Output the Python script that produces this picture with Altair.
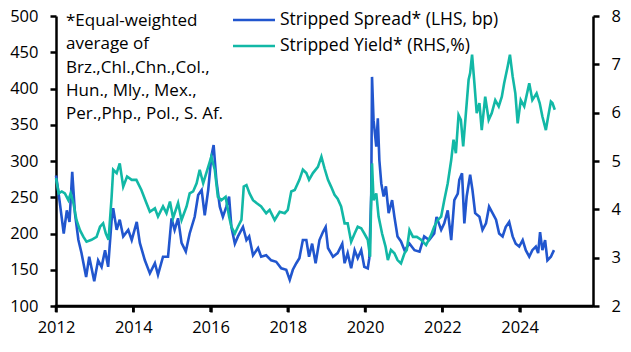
import altair as alt
import pandas as pd

# Stripped spread (LHS, bp)
spread_t = [2012.00, 2012.05, 2012.10, 2012.20, 2012.28, 2012.35, 2012.42, 2012.49, 2012.58, 2012.66,
            2012.78, 2012.86, 2012.99, 2013.09, 2013.18, 2013.27, 2013.35, 2013.44, 2013.48, 2013.57,
            2013.65, 2013.74, 2013.87, 2013.96, 2014.09, 2014.17, 2014.30, 2014.43, 2014.56, 2014.64,
            2014.77, 2014.90, 2014.99, 2015.07, 2015.16, 2015.25, 2015.36, 2015.46, 2015.59, 2015.68,
            2015.77, 2015.85, 2015.94, 2016.02, 2016.08, 2016.15, 2016.24, 2016.32, 2016.41, 2016.48,
            2016.54, 2016.63, 2016.71, 2016.84, 2016.93, 2017.00, 2017.10, 2017.23, 2017.31, 2017.44,
            2017.57, 2017.70, 2017.83, 2017.96, 2018.05, 2018.13, 2018.22, 2018.30, 2018.39, 2018.48,
            2018.55, 2018.63, 2018.72, 2018.82, 2018.91, 2018.98, 2019.04, 2019.17, 2019.29, 2019.41,
            2019.47, 2019.55, 2019.64, 2019.73, 2019.81, 2019.90, 2019.98, 2020.07, 2020.11, 2020.16,
            2020.18, 2020.22, 2020.29, 2020.33, 2020.37, 2020.42, 2020.48, 2020.54, 2020.61, 2020.70,
            2020.76, 2020.84, 2020.93, 2021.02, 2021.15, 2021.28, 2021.41, 2021.53, 2021.66, 2021.79,
            2021.85, 2021.97, 2022.05, 2022.14, 2022.23, 2022.31, 2022.40, 2022.44, 2022.51, 2022.57,
            2022.63, 2022.72, 2022.78, 2022.85, 2022.96, 2023.04, 2023.13, 2023.21, 2023.30, 2023.39,
            2023.47, 2023.56, 2023.64, 2023.73, 2023.82, 2023.90, 2023.99, 2024.08, 2024.16, 2024.25,
            2024.33, 2024.42, 2024.48, 2024.53, 2024.59, 2024.66, 2024.72, 2024.81, 2024.89]
spread_v = [280, 262, 242, 200, 232, 216, 285, 228, 191, 173,
            140, 168, 134, 163, 154, 177, 154, 219, 235, 205,
            219, 196, 205, 191, 216, 187, 163, 145, 159, 143,
            168, 168, 221, 205, 221, 187, 175, 200, 223, 253,
            260, 225, 260, 306, 322, 274, 237, 223, 237, 251,
            209, 186, 196, 209, 191, 196, 170, 180, 168, 170,
            163, 161, 152, 150, 136, 150, 159, 166, 191, 191,
            168, 186, 159, 191, 202, 209, 180, 168, 173, 186,
            159, 173, 152, 177, 166, 177, 154, 152, 166, 255,
            416, 356, 320, 359, 301, 269, 251, 265, 228, 246,
            223, 196, 189, 177, 186, 177, 175, 196, 191, 200,
            223, 205, 214, 232, 191, 246, 255, 274, 283, 214,
            251, 281, 260, 228, 223, 205, 214, 237, 228, 219,
            200, 196, 209, 216, 196, 186, 182, 191, 177, 168,
            177, 182, 173, 202, 177, 191, 163, 168, 177]

# Stripped yield (RHS, %)
yield_t = [2012.00, 2012.07, 2012.15, 2012.23, 2012.32, 2012.38, 2012.45, 2012.53, 2012.62, 2012.71,
           2012.79, 2012.92, 2013.05, 2013.14, 2013.22, 2013.29, 2013.36, 2013.44, 2013.48, 2013.57,
           2013.65, 2013.74, 2013.84, 2013.96, 2014.08, 2014.21, 2014.34, 2014.43, 2014.56, 2014.64,
           2014.77, 2014.86, 2014.95, 2015.03, 2015.16, 2015.25, 2015.38, 2015.46, 2015.55, 2015.64,
           2015.72, 2015.81, 2015.94, 2016.02, 2016.11, 2016.19, 2016.28, 2016.39, 2016.48, 2016.54,
           2016.63, 2016.71, 2016.80, 2016.86, 2016.93, 2017.01, 2017.10, 2017.19, 2017.31, 2017.44,
           2017.53, 2017.66, 2017.79, 2017.92, 2018.00, 2018.09, 2018.18, 2018.30, 2018.39, 2018.48,
           2018.55, 2018.65, 2018.78, 2018.87, 2018.95, 2019.04, 2019.12, 2019.21, 2019.29, 2019.38,
           2019.47, 2019.55, 2019.64, 2019.73, 2019.81, 2019.90, 2019.98, 2020.07, 2020.13, 2020.16,
           2020.18, 2020.22, 2020.29, 2020.35, 2020.44, 2020.53, 2020.59, 2020.67, 2020.76, 2020.84,
           2020.93, 2021.02, 2021.08, 2021.15, 2021.24, 2021.34, 2021.45, 2021.58, 2021.71, 2021.79,
           2021.88, 2021.97, 2022.05, 2022.14, 2022.23, 2022.29, 2022.35, 2022.42, 2022.48, 2022.54,
           2022.61, 2022.68, 2022.72, 2022.77, 2022.83, 2022.89, 2022.96, 2023.02, 2023.11, 2023.20,
           2023.28, 2023.37, 2023.46, 2023.54, 2023.60, 2023.69, 2023.75, 2023.82, 2023.89, 2023.95,
           2024.03, 2024.12, 2024.25, 2024.33, 2024.44, 2024.52, 2024.59, 2024.68, 2024.74, 2024.81,
           2024.85, 2024.91]
yield_v = [4.65, 4.33, 4.37, 4.33, 4.19, 4.33, 4.13, 3.78, 3.57, 3.43,
           3.33, 3.37, 3.43, 3.64, 3.71, 3.50, 3.37, 4.26, 4.82, 4.75,
           4.95, 4.47, 4.68, 4.61, 4.61, 4.40, 4.13, 3.95, 4.02, 3.85,
           4.06, 3.92, 4.16, 3.82, 4.13, 3.78, 4.06, 4.33, 4.37, 4.54,
           4.82, 4.54, 4.88, 5.09, 4.82, 4.26, 4.19, 4.26, 3.85, 3.64,
           3.50, 3.64, 3.78, 4.47, 4.50, 4.33, 4.19, 4.13, 4.06, 3.92,
           3.99, 3.78, 3.95, 3.92, 3.99, 4.37, 4.40, 4.61, 4.82, 4.75,
           4.61, 4.75, 4.88, 5.09, 4.85, 4.61, 4.47, 4.30, 4.22, 4.06,
           3.71, 3.71, 3.33, 3.50, 3.64, 3.61, 3.50, 3.37, 3.02, 4.26,
           4.95, 4.19, 4.33, 3.85, 3.50, 3.23, 2.95, 3.16, 3.09, 2.95,
           2.88, 3.09, 3.16, 3.57, 3.43, 3.43, 3.37, 3.26, 3.47, 3.64,
           3.78, 3.85, 4.19, 4.54, 5.02, 5.44, 5.16, 5.95, 5.85, 5.30,
           5.99, 6.68, 6.82, 7.20, 6.61, 5.99, 6.20, 5.64, 6.33, 5.85,
           5.99, 6.26, 6.13, 6.33, 6.61, 6.95, 7.20, 6.75, 6.40, 5.78,
           6.26, 6.13, 6.61, 6.26, 6.40, 6.20, 5.92, 5.64, 5.92, 6.23,
           6.20, 6.06]

series_names = ["Stripped Spread* (LHS, bp)", "Stripped Yield* (RHS,%)"]
series_colors = ["#2156CE", "#12B8A6"]
x_ticks = [2012, 2014, 2016, 2018, 2020, 2022, 2024]
left_ticks = [100, 150, 200, 250, 300, 350, 400, 450, 500]
right_ticks = [2, 3, 4, 5, 6, 7, 8]
note_lines = ["*Equal-weighted", "average of", "Brz.,Chl.,Chn.,Col.,",
              "Hun., Mly., Mex.,", "Per.,Php., Pol., S. Af."]

FONT = "Open Sans"
W, H = 537, 290

df_s = pd.DataFrame({"t": spread_t, "v": spread_v, "series": series_names[0]})
df_y = pd.DataFrame({"t": yield_t, "v": yield_v, "series": series_names[1]})
df_ticks = pd.DataFrame({"t": x_ticks})

xscale = alt.Scale(domain=[2012, 2025.9], nice=False, zero=False)
xaxis = alt.Axis(values=x_ticks, format="d", title=None, labelPadding=7, labelFlush=False,
                 domain=True, ticks=True, domainColor="black", domainWidth=2.5,
                 tickColor="black", tickWidth=2.5, tickSize=6, orient="bottom")
cscale = alt.Scale(domain=series_names, range=series_colors)
clegend = alt.Legend(title=None, orient="none", legendX=186, legendY=-8,
                     symbolType="M-2,0H2", symbolSize=441, symbolStrokeWidth=2.5,
                     labelFont=FONT, labelFontSize=17.5, labelColor="black", labelLimit=0,
                     labelOffset=14, rowPadding=5, padding=0)

spread = alt.Chart(df_s).mark_line(strokeWidth=2.6).encode(
    x=alt.X("t:Q", scale=xscale, axis=xaxis),
    y=alt.Y("v:Q", scale=alt.Scale(domain=[100, 500], nice=False, zero=False),
            axis=alt.Axis(values=left_ticks, title=None, orient="left", labelPadding=12)),
    color=alt.Color("series:N", scale=cscale, legend=clegend),
)

yld = alt.Chart(df_y).mark_line(strokeWidth=2.6).encode(
    x=alt.X("t:Q", scale=xscale, axis=xaxis),
    y=alt.Y("v:Q", scale=alt.Scale(domain=[2, 8], nice=False, zero=False),
            axis=alt.Axis(values=right_ticks, title=None, orient="right", labelPadding=12)),
    color=alt.Color("series:N", scale=cscale, legend=clegend),
)

# bottom axis line and tick marks (drawn explicitly)
x_base = alt.Chart(pd.DataFrame({"k": [0]})).mark_rule(color="black", strokeWidth=2.5).encode(
    x=alt.value(-1.25), x2=alt.value(W + 1.25), y=alt.value(H), 
)
x_tickmarks = alt.Chart(df_ticks).mark_rule(color="black", strokeWidth=2.5).encode(
    x=alt.X("t:Q", scale=xscale, axis=xaxis), y=alt.value(H), y2=alt.value(H + 6),
)

note = alt.Chart(pd.DataFrame({"k": [0]})).mark_text(
    text=note_lines, align="left", baseline="top", font=FONT, fontSize=17,
    lineHeight=23.3, color="black"
).encode(x=alt.value(10), y=alt.value(-3))

chart = alt.layer(spread, yld, x_base, x_tickmarks, note).resolve_scale(y="independent").properties(
    width=W, height=H,
    autosize=alt.AutoSizeParams(type="none"),
    padding={"left": 56, "top": 16, "right": 38, "bottom": 46},
).configure_view(stroke=None).configure_axis(
    domainColor="black", domainWidth=2.5, tickColor="black", tickWidth=2.5, tickSize=6,
    labelFont=FONT, labelFontSize=16.5, labelColor="black", grid=False,
)

chart.save("out.html", embed_options={"renderer": "svg", "actions": False})
